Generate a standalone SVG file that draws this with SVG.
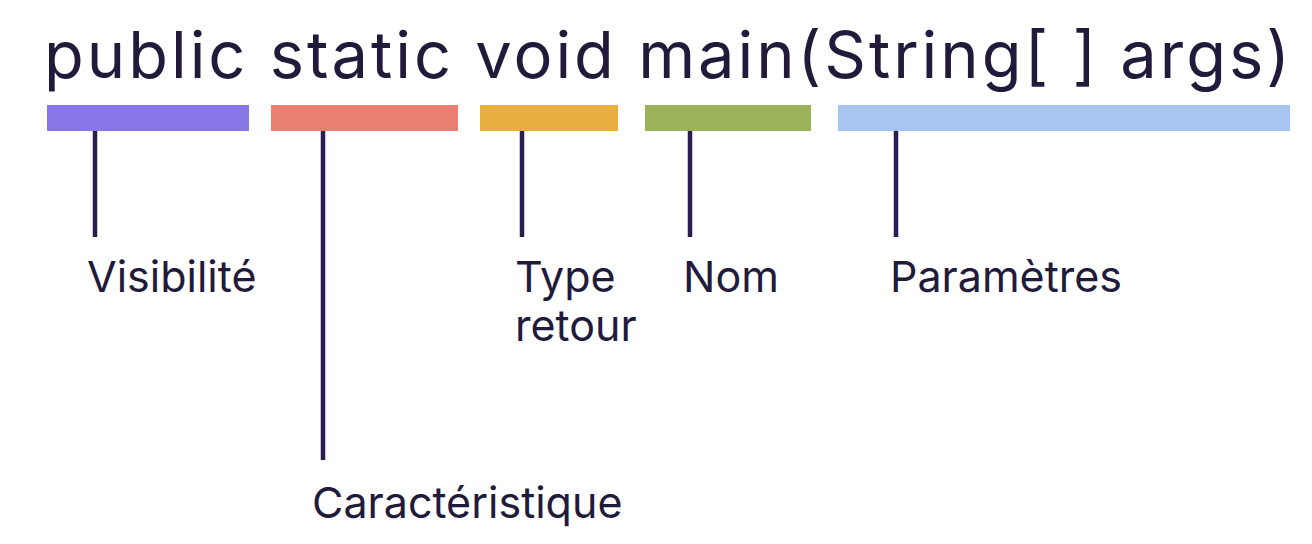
<svg xmlns="http://www.w3.org/2000/svg" width="1312" height="544" viewBox="0 0 1312 544">
  <style>
    .title { font-family: Inter, "Liberation Sans", sans-serif; font-size: 65px; fill: #221a3b; }
    .lbl { font-family: Inter, "Liberation Sans", sans-serif; font-size: 43px; fill: #221a3b; }
    .conn { stroke: #2b1d50; stroke-width: 4.5; fill: none; }
  </style>
  <rect width="1312" height="544" fill="#ffffff"/>
  <g id="title">
    <text class="title" x="44" y="78" textLength="1246" lengthAdjust="spacing">public static void main(String[ ] args)</text>
  </g>
  <g id="visibilite">
    <rect x="47" y="105" width="202" height="26" fill="#8776e6"/>
    <text class="lbl" x="87" y="292">Visibilité</text>
  </g>
  <g id="caracteristique">
    <rect x="271" y="105" width="187" height="26" fill="#e88071"/>
    <text class="lbl" x="312" y="518">Caractéristique</text>
  </g>
  <g id="type-retour">
    <rect x="480" y="105" width="138" height="26" fill="#e8ae3f"/>
    <text class="lbl" x="515" y="292">Type</text>
    <text class="lbl" x="515" y="341">retour</text>
  </g>
  <g id="nom">
    <rect x="645" y="105" width="166" height="26" fill="#9db35a"/>
    <text class="lbl" x="683" y="292">Nom</text>
  </g>
  <g id="parametres">
    <rect x="838" y="105" width="452" height="26" fill="#a8c5f0"/>
    <text class="lbl" x="890" y="292">Paramètres</text>
  </g>
  <g id="connectors">
    <line class="conn" x1="95" y1="131" x2="95" y2="237"/>
    <line class="conn" x1="323" y1="131" x2="323" y2="460"/>
    <line class="conn" x1="522" y1="131" x2="522" y2="237"/>
    <line class="conn" x1="690" y1="131" x2="690" y2="237"/>
    <line class="conn" x1="896" y1="131" x2="896" y2="237"/>
  </g>
</svg>
